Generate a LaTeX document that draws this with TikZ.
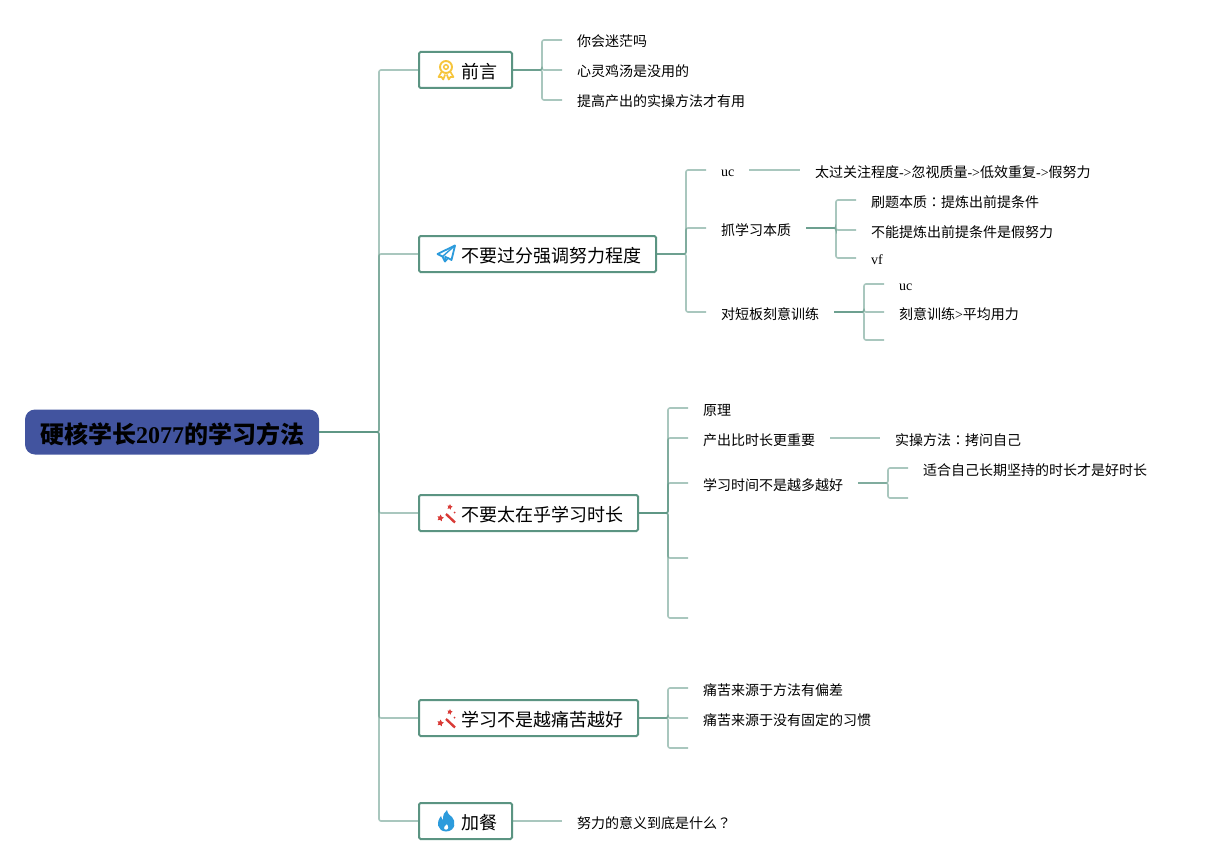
\documentclass[tikz,border=0pt]{standalone}
\usepackage{fontspec}
\setmainfont{Liberation Serif}
\newfontfamily\cjk{Noto Sans CJK SC}
\newfontfamily\cjkp{Noto Sans CJK TC}
\definecolor{teal0}{HTML}{5B9482}
\definecolor{rootblue}{HTML}{42549F}
\definecolor{gold}{HTML}{F6C53C}
\definecolor{sky}{HTML}{2C9BDC}
\definecolor{wand}{HTML}{D93A36}
\tikzset{
  conn/.style={draw=teal0,line width=1.6pt,opacity=.52,rounded corners=2pt},
  leaf/.style={anchor=west,inner xsep=15pt,inner ysep=0pt,outer sep=0pt,text height=14pt,text depth=0pt,font=\fontsize{14}{14}\selectfont\cjk,text=black},
  latleaf/.style={leaf,text height=12pt},
  topic/.style={anchor=west,draw=teal0,line width=2pt,rounded corners=1.5pt,fill=white,inner xsep=15pt,inner ysep=0pt,outer sep=0pt,minimum height=36pt,text height=17pt,text depth=0pt,font=\fontsize{18}{18}\selectfont\cjk},
  rootbox/.style={anchor=west,fill=rootblue,rounded corners=10pt,inner xsep=14.5pt,inner ysep=0pt,outer sep=0pt,minimum width=294pt,minimum height=45pt,text height=22pt,text depth=0pt,font=\fontsize{24}{24}\selectfont\cjk\bfseries},
}
\newcommand{\lat}[1]{{\rmfamily #1}}
\newcommand{\pad}{\hspace*{27pt}}
\begin{document}
\begin{tikzpicture}[x=1pt,y=-1pt]
\useasboundingbox (0,0) rectangle (1207,864);
% root
\node[rootbox] (root) at (25,432) {硬核学长\lat{\bfseries 2077}的学习方法};
% topics
\node[topic] (t1) at (419,70) {\pad 前言};
\node[topic] (t2) at (419,254) {\pad 不要过分强调努力程度};
\node[topic] (t3) at (419,513) {\pad 不要太在乎学习时长};
\node[topic] (t4) at (419,718) {\pad 学习不是越痛苦越好};
\node[topic] (t5) at (419,821) {\pad 加餐};
% topic 1
\node[leaf] (a1) at (562,40) {你会迷茫吗};
\node[leaf] (a2) at (562,70) {心灵鸡汤是没用的};
\node[leaf] (a3) at (562,100) {提高产出的实操方法才有用};
% topic 2
\node[latleaf] (b1) at (706,170) {\lat{uc}};
\node[leaf] (b2) at (706,228) {抓学习本质};
\node[leaf] (b3) at (706,312) {对短板刻意训练};
\node[leaf] (b1a) at (800,170) {太过关注程度\lat{->}忽视质量\lat{->}低效重复\lat{->}假努力};
\node[leaf] (b2a) at (856,200) {刷题本质{\cjkp ：}提炼出前提条件};
\node[leaf] (b2b) at (856,230) {不能提炼出前提条件是假努力};
\node[latleaf] (b2c) at (856,258) {\lat{vf}};
\node[latleaf] (b3a) at (884,284) {\lat{uc}};
\node[leaf] (b3b) at (884,312) {刻意训练\lat{>}平均用力};
\coordinate (b3c) at (884,340);
% topic 3
\node[leaf] (c1) at (688,408) {原理};
\node[leaf] (c2) at (688,438) {产出比时长更重要};
\node[leaf] (c3) at (688,483) {学习时间不是越多越好};
\coordinate (c4) at (688,558);
\coordinate (c5) at (688,618);
\node[leaf] (c2a) at (880,438) {实操方法{\cjkp ：}拷问自己};
\node[leaf] (c3a) at (908,468) {适合自己长期坚持的时长才是好时长};
\coordinate (c3b) at (908,498);
% topic 4
\node[leaf] (d1) at (688,688) {痛苦来源于方法有偏差};
\node[leaf] (d2) at (688,718) {痛苦来源于没有固定的习惯};
\coordinate (d3) at (688,748);
% topic 5
\node[leaf] (e1) at (562,821) {努力的意义到底是什么{\cjkp ？}};
% connectors
\foreach \c in {t1,t2,t3,t4,t5} \draw[conn] (root.east) -- ++(60,0) |- (\c.west);
\foreach \c in {a1,a2,a3} \draw[conn] (t1.east) -- ++(30,0) |- (\c.west);
\foreach \c in {b1,b2,b3} \draw[conn] (t2.east) -- ++(30,0) |- (\c.west);
\foreach \c in {c1,c2,c3} \draw[conn] (t3.east) -- ++(30,0) |- (\c.west);
\foreach \c in {c4,c5} \draw[conn] (t3.east) -- ++(30,0) |- (\c);
\foreach \c in {d1,d2} \draw[conn] (t4.east) -- ++(30,0) |- (\c.west);
\draw[conn] (t4.east) -- ++(30,0) |- (d3);
\draw[conn] (t5.east) -- (e1.west);
\draw[conn] (b1.east) -- (b1a.west);
\foreach \c in {b2a,b2b,b2c} \draw[conn] (b2.east) -- ++(30,0) |- (\c.west);
\foreach \c in {b3a,b3b} \draw[conn] (b3.east) -- ++(30,0) |- (\c.west);
\draw[conn] (b3.east) -- ++(30,0) |- (b3c);
\draw[conn] (c2.east) -- (c2a.west);
\draw[conn] (c3.east) -- ++(30,0) |- (c3a.west);
\draw[conn] (c3.east) -- ++(30,0) |- (c3b);
% icons
% rosette
\begin{scope}[shift={(446,70)}]
  \draw[gold,line width=1.9pt] (0,-3) circle (6);
  \draw[gold,line width=1.5pt] (0,-3) circle (2.3);
  \draw[gold,line width=1.7pt,line join=round] (-4.5,2) -- (-7.5,7) -- (-4.4,7) -- (-2.8,9.5) -- (-0.8,4.5);
  \draw[gold,line width=1.7pt,line join=round] (4.5,2) -- (7.5,7) -- (4.4,7) -- (2.8,9.5) -- (0.8,4.5);
\end{scope}
% paper plane
\begin{scope}[shift={(446,254)}]
  \draw[sky,line width=1.8pt,line join=round] (9,-8.5) -- (-8.5,0) -- (-3.5,2.5) -- (-1,7.5) -- (2,4) -- (5.5,6) -- cycle;
  \draw[sky,line width=1.4pt,line join=round] (9,-8.5) -- (-3.5,2.5);
  \draw[sky,line width=1.4pt] (-1,7.5) -- (-0.8,2.5) -- (2,4);
\end{scope}
% wand icons
\foreach \yy in {513,718} {
\begin{scope}[shift={(446,\yy)}]
  \draw[wand,line width=2.4pt] (0,1) -- (9,9.5);
  \fill[wand] (-5.5,1.5) -- (-4.4,3.6) -- (-2.2,4.6) -- (-4,6) -- (-4.3,8.3) -- (-6,6.8) -- (-8.4,7.2) -- (-7.4,5.2) -- (-8.5,3.2) -- (-6.2,3.5) -- cycle;
  \fill[wand] (4,-9) -- (4.8,-7.2) -- (6.6,-6.4) -- (5,-5.2) -- (4.8,-3.4) -- (3.4,-4.6) -- (1.6,-4.2) -- (2.3,-6) -- (1.4,-7.5) -- (3.2,-7.4) -- cycle;
  \fill[wand] (8.5,-0.5) circle (1);
\end{scope}}
% flame
\begin{scope}[shift={(446,821)}]
  \fill[sky,even odd rule] (1,-11) .. controls (2,-6) and (4,-6) .. (6,-4)
    .. controls (10,0) and (10,10) .. (0,10.5)
    .. controls (-9,10) and (-10,1) .. (-5,-5)
    .. controls (-4.5,-3) and (-4,-2) .. (-3,-1)
    .. controls (-3,-6) and (-2,-9) .. (1,-11) -- cycle
    (0.8,3) .. controls (-2.5,5.5) and (-3,8.5) .. (0,8.8)
    .. controls (3,8.5) and (3,5.5) .. (0.8,3) -- cycle;
\end{scope}
\end{tikzpicture}
\end{document}
